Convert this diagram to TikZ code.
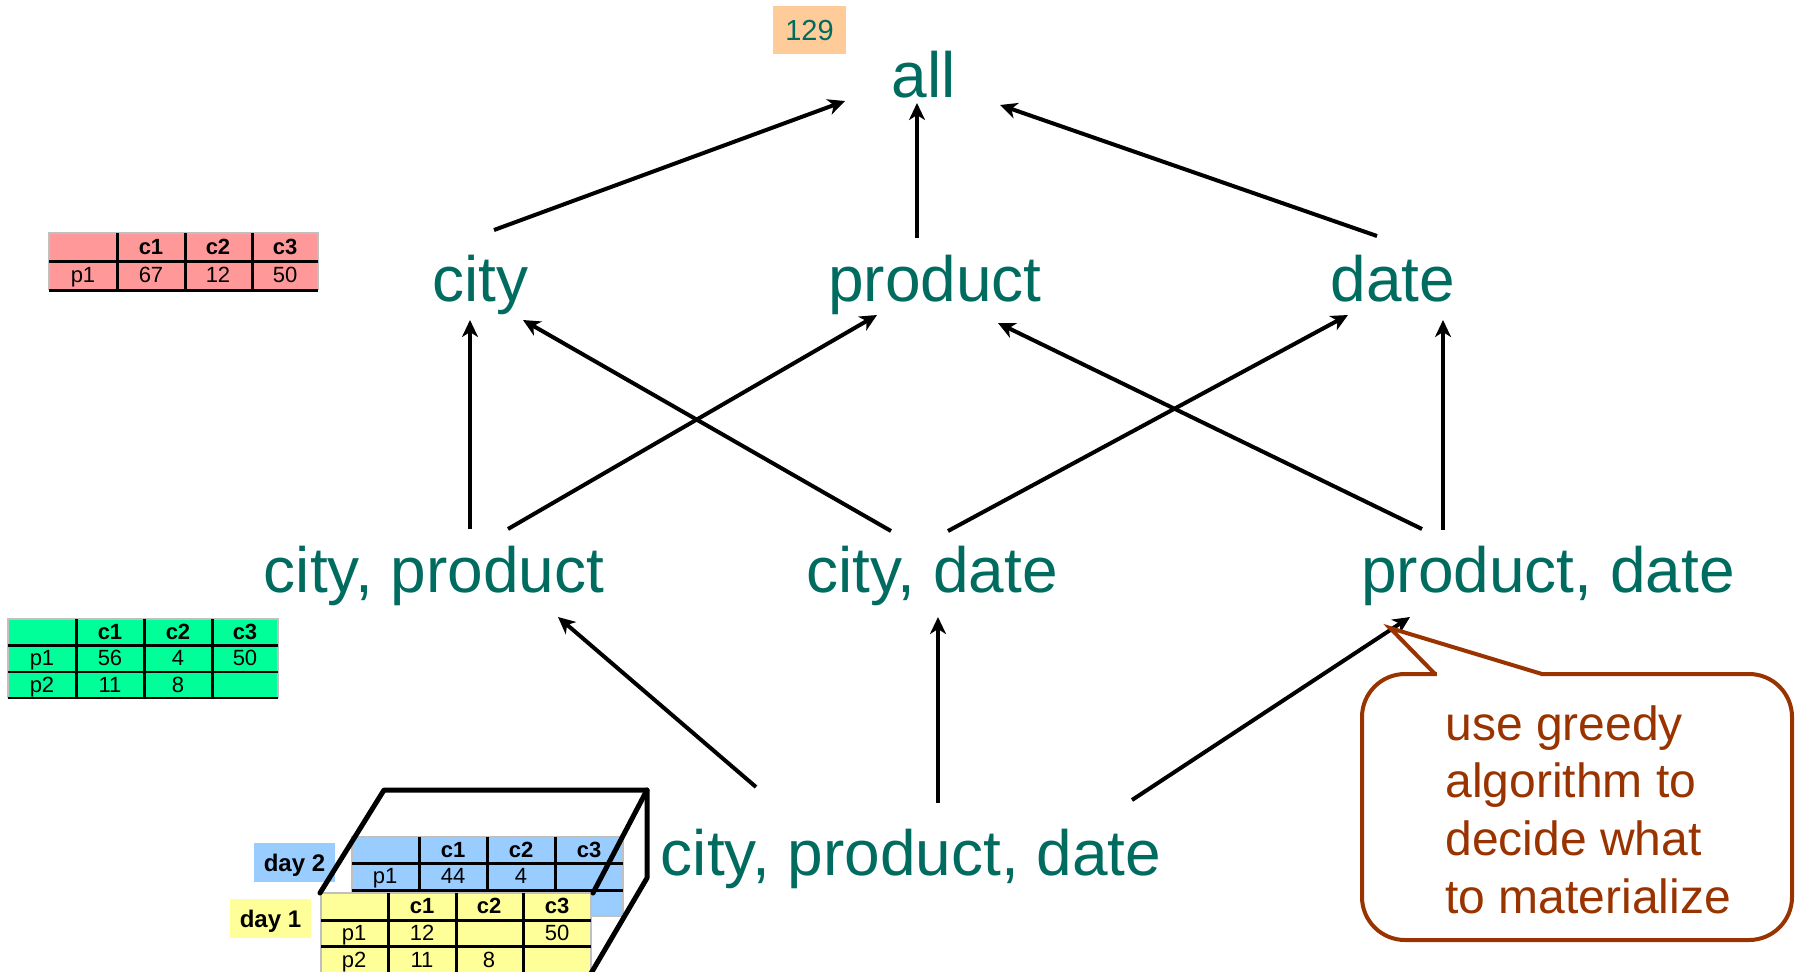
\documentclass[tikz,border=0pt]{standalone}
\usepackage{fontspec}
\setmainfont{Liberation Sans}
\usetikzlibrary{arrows.meta,calc}
\definecolor{tealc}{RGB}{0,107,95}
\definecolor{brn}{RGB}{153,51,0}
\definecolor{pinkc}{RGB}{255,153,153}
\definecolor{greenc}{RGB}{0,255,153}
\definecolor{bluec}{RGB}{153,204,255}
\definecolor{yellc}{RGB}{255,255,153}
\definecolor{peach}{RGB}{255,204,153}
\definecolor{grayb}{RGB}{192,192,192}
\begin{document}
\begin{tikzpicture}[x=0.5pt,y=-0.5pt,
  lbl/.style={text=tealc, font=\fontsize{32pt}{38pt}\selectfont, inner sep=0pt, anchor=base},
  arr/.style={line width=2pt, -{Stealth[length=8.5pt,width=8pt,inset=2.5pt]}},
  cell/.style={font=\fontsize{11pt}{13pt}\selectfont, inner sep=0pt, text height=7.9pt, text depth=0pt},
  hcell/.style={cell, font=\fontsize{11pt}{13pt}\selectfont\bfseries},
  tline/.style={line width=1.5pt},
  gline/.style={grayb, line width=1pt},
  cube/.style={line width=2.5pt, line cap=round, line join=round},
  daylbl/.style={inner sep=0pt, minimum width=40.5pt, minimum height=19.5pt, text depth=0pt, font=\fontsize{12pt}{14pt}\selectfont\bfseries},
  note/.style={text=brn, font=\fontsize{24pt}{28pt}\selectfont, inner sep=0pt, anchor=base west},
]
\useasboundingbox (0,0) rectangle (1798,971);

% ---------- 129 label ----------
\node[fill=peach, text=tealc, inner sep=0pt, minimum width=36.5pt, minimum height=24pt,
      text depth=0pt, font=\fontsize{14.5pt}{17pt}\selectfont] (n129) at (809.5,30) {129};

% ---------- lattice labels ----------
\node[lbl] (all) at (924,97) {all};
\node[lbl] (city) at (480,301) {city};
\node[lbl] (product) at (935,301) {product};
\node[lbl] (date) at (1393,301) {date};
\node[lbl] (cp) at (434,592) {city, product};
\node[lbl] (cd) at (932,592) {city, date};
\node[lbl] (pd) at (1548,592) {product, date};
\node[lbl] (cpd) at (911,875) {city, product, date};

% ---------- arrows ----------
\draw[arr] ($(city.base)+(14,-71)$) -- ($(all.base)+(-79,4)$);
\draw[arr] ($(product.base)+(-18,-63)$) -- ($(all.base)+(-7,6)$);
\draw[arr] ($(date.base)+(-16,-65)$) -- ($(all.base)+(76,8)$);
\draw[arr] ($(cp.base)+(36,-63)$) -- ($(city.base)+(-10,19)$);
\draw[arr] ($(cp.base)+(74,-63)$) -- ($(product.base)+(-58,14)$);
\draw[arr] ($(cd.base)+(-41,-61)$) -- ($(city.base)+(43,19)$);
\draw[arr] ($(cd.base)+(16,-61)$) -- ($(date.base)+(-45,14)$);
\draw[arr] ($(pd.base)+(-126,-63)$) -- ($(product.base)+(63,22)$);
\draw[arr] ($(pd.base)+(-105,-62)$) -- ($(date.base)+(50,19)$);
\draw[arr] ($(cpd.base)+(-155,-88)$) -- ($(cp.base)+(124,25)$);
\draw[arr] ($(cpd.base)+(27,-72)$) -- ($(cd.base)+(6,25)$);
\draw[arr] ($(cpd.base)+(221,-75)$) -- ($(pd.base)+(-138,25)$);

% ---------- pink table ----------
\fill[pinkc] (49,233) rectangle (318,290);
\draw[gline] (49,290) -- (49,233) -- (318,233) -- (318,290);
\draw[tline] (49,261) -- (318,261) (49,290) -- (318,290)
  (117,233) -- (117,290) (185,233) -- (185,290) (252,233) -- (252,290);
\foreach \x/\t in {151/c1,218/c2,285/c3} \node[hcell] (pkh\x) at (\x,247) {\t};
\foreach \x/\t in {83/p1,151/67,218/12,285/50} \node[cell] (pkr\x) at (\x,275) {\t};

% ---------- green table ----------
\fill[greenc] (8,619) rectangle (278,698);
\draw[gline] (8,698) -- (8,619) -- (278,619) -- (278,698);
\draw[tline] (8,645) -- (278,645) (76,619) -- (76,698) (144,619) -- (144,698) (212,619) -- (212,698);
\draw[line width=1pt] (8,672) -- (278,672) (8,698) -- (278,698);
\foreach \x/\t in {110/c1,178/c2,245/c3} \node[hcell] (grh\x) at (\x,632) {\t};
\foreach \x/\t in {42/p1,110/56,178/4,245/50} \node[cell] (gra\x) at (\x,658) {\t};
\foreach \x/\t in {42/p2,110/11,178/8} \node[cell] (grb\x) at (\x,685) {\t};

% ---------- day labels ----------
\node[daylbl, fill=bluec] (day2) at (294.5,862.5) {day 2};
\node[daylbl, fill=yellc] (day1) at (270.5,918.5) {day 1};

% ---------- blue table (day 2) ----------
\fill[bluec] (352,837) rectangle (623,916);
\draw[gline] (352,837) rectangle (623,916);
\draw[tline] (352,863) -- (623,863) (352,890) -- (623,890)
  (419,837) -- (419,916) (487,837) -- (487,916) (555,837) -- (555,916);
\foreach \x/\t in {453/c1,521/c2,589/c3} \node[hcell] (blh\x) at (\x,850) {\t};
\foreach \x/\t in {385/p1,453/44,521/4} \node[cell] (bla\x) at (\x,876) {\t};

% ---------- yellow table (day 1) ----------
\fill[yellc] (321,893) rectangle (591,975);
\draw[gline] (321,975) -- (321,893) -- (591,893) -- (591,975);
\draw[tline] (321,920) -- (591,920) (321,946) -- (591,946)
  (388,893) -- (388,975) (456,893) -- (456,975) (523,893) -- (523,975);
\foreach \x/\t in {422/c1,489/c2,557/c3} \node[hcell] (ylh\x) at (\x,906) {\t};
\foreach \x/\t in {354/p1,422/12,557/50} \node[cell] (yla\x) at (\x,933) {\t};
\foreach \x/\t in {354/p2,422/11,489/8} \node[cell] (ylb\x) at (\x,960) {\t};

% ---------- cube outline ----------
\draw[cube] (320,893) -- (384,790) -- (647,790) -- (647,878) -- (590,975);
\draw[cube] (647,790) -- (593,893);

% ---------- callout ----------
\draw[brn, line width=2pt, fill=white, rounded corners=21.5pt] (1362,674) rectangle (1792,940);
\fill[white] (1437,678) -- (1437,671) -- (1390,628) -- (1542,671) -- (1540,678) -- cycle;
\draw[brn, line width=2pt, line join=miter] ($(pd.base)+(-113,82)$) -- ($(pd.base)+(-158,36)$) -- ($(pd.base)+(-6,82)$);
\node[note] (t1) at (1445,740) {use greedy};
\node[note] (t2) at (1445,797) {algorithm to};
\node[note] (t3) at (1445,855) {decide what};
\node[note] (t4) at (1445,913) {to materialize};
\end{tikzpicture}
\end{document}
